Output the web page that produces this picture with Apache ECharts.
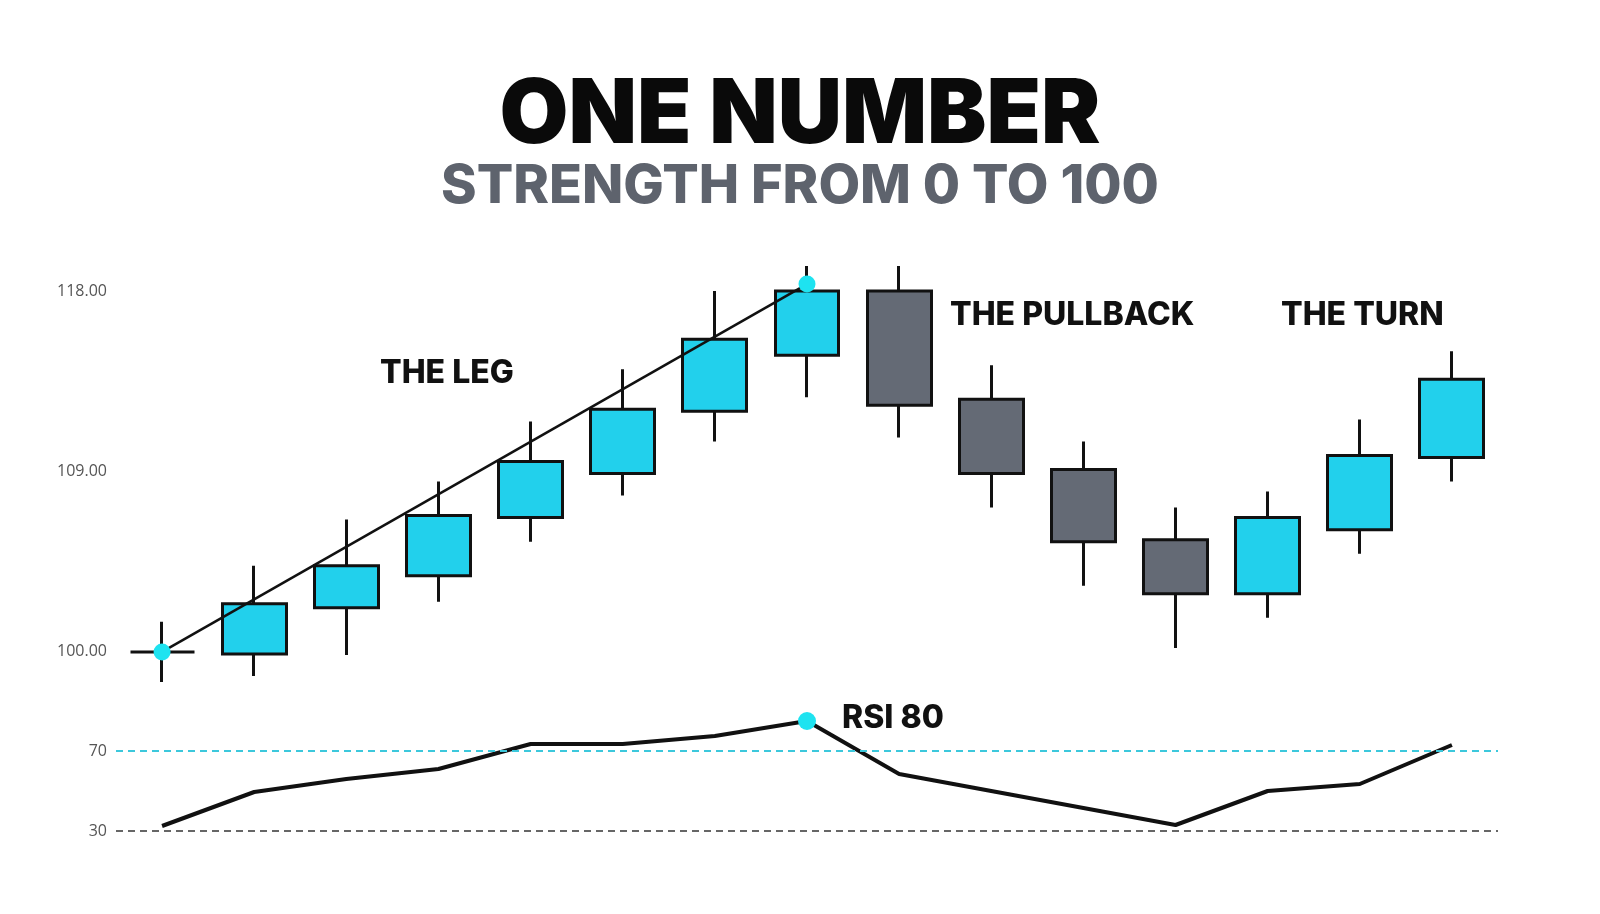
<!DOCTYPE html>
<html>
<head>
<meta charset="utf-8">
<script src="https://cdn.jsdelivr.net/npm/echarts@6/dist/echarts.min.js"></script>
<style>html,body{margin:0;padding:0;background:#fff}#main{width:1600px;height:914px}</style>
</head>
<body>
<div id="main"></div>
<script>
// candles: [open, close, low, high]
const categories = ['1','2','3','4','5','6','7','8','9','10','11','12','13','14','15'];
const candles = [
  [100.0, 100.0, 98.5, 101.5],
  [99.9, 102.4, 98.8, 104.3],
  [102.2, 104.3, 99.85, 106.6],
  [103.8, 106.8, 102.5, 108.5],
  [106.7, 109.5, 105.5, 111.5],
  [108.9, 112.1, 107.8, 114.1],
  [112.0, 115.6, 110.5, 118.0],
  [114.8, 118.0, 112.7, 119.25],
  [118.0, 112.3, 110.7, 119.25],
  [112.6, 108.9, 107.2, 114.3],
  [109.1, 105.5, 103.3, 110.5],
  [105.6, 102.9, 100.2, 107.2],
  [102.9, 106.7, 101.7, 108.0],
  [106.1, 109.8, 104.9, 111.6],
  [109.7, 113.6, 108.5, 115.0]
];
const rsi = [32.5, 49.5, 56, 61, 73.5, 73.5, 77.5, 85, 58.5, 50, 41.5, 33, 50, 53.5, 73];
const trend = [100, null, null, null, null, null, null, 118.35, null, null, null, null, null, null, null];
const priceTicks = [100, 109, 118];
const rsiTicks = [30, 70];

const CYAN = '#22d0ec', GREY = '#646a75';
const chart = echarts.init(document.getElementById('main'));
const lblFont = {color: '#555', fontSize: 16, fontFamily: 'Open Sans'};
chart.setOption({
  animation: false,
  graphic: [
    {type: 'text', left: 'center', top: 72, style: {text: 'ONE NUMBER', font: '900 89px Inter', fill: '#0a0a0a'}},
    {type: 'text', left: 'center', top: 160, style: {text: 'STRENGTH FROM 0 TO 100', font: '800 54px Inter', fill: '#5e636d'}},
    {type: 'text', left: 380, top: 357, style: {text: 'THE LEG', font: '800 32px Inter', fill: '#111'}},
    {type: 'text', left: 950, top: 299, style: {text: 'THE PULLBACK', font: '800 32px Inter', fill: '#111'}},
    {type: 'text', left: 1281, top: 299, style: {text: 'THE TURN', font: '800 32px Inter', fill: '#111'}},
    {type: 'text', left: 842, top: 702, style: {text: 'RSI 80', font: '800 32px Inter', fill: '#111'}}
  ],
  grid: [
    {left: 116, width: 1382, top: 251, height: 441},
    {left: 116, width: 1382, top: 711, height: 130}
  ],
  xAxis: [
    {type: 'category', data: categories, gridIndex: 0, show: false},
    {type: 'category', data: categories, gridIndex: 1, show: false}
  ],
  yAxis: [
    {type: 'value', gridIndex: 0, min: 98, max: 120, interval: 1, splitLine: {show: false},
     axisLine: {show: false}, axisTick: {show: false},
     axisLabel: Object.assign({margin: 9, formatter: v => priceTicks.includes(v) ? v.toFixed(2) : ''}, lblFont)},
    {type: 'value', gridIndex: 1, min: 25, max: 90, interval: 5, splitLine: {show: false},
     axisLine: {show: false}, axisTick: {show: false},
     axisLabel: Object.assign({margin: 9, formatter: v => rsiTicks.includes(v) ? String(v) : ''}, lblFont)}
  ],
  series: [
    {
      type: 'candlestick', xAxisIndex: 0, yAxisIndex: 0, data: candles, barWidth: '70%',
      itemStyle: {color: CYAN, color0: GREY, borderColor: '#111', borderColor0: '#111', borderWidth: 3}
    },
    {
      type: 'line', xAxisIndex: 0, yAxisIndex: 0, data: trend, connectNulls: true,
      lineStyle: {color: '#111', width: 2.5}, symbol: 'circle', symbolSize: 17,
      itemStyle: {color: '#1ee3f0'}, z: 5
    },
    {
      type: 'line', xAxisIndex: 1, yAxisIndex: 1, data: rsi,
      lineStyle: {color: '#111', width: 4}, symbol: 'none', z: 4,
      markPoint: {symbol: 'circle', symbolSize: 18, itemStyle: {color: '#1ee3f0'}, label: {show: false},
        data: [{coord: [7, 85]}]},
      markLine: {symbol: 'none', silent: true, label: {show: false},
        data: [
          {yAxis: 70, lineStyle: {color: '#3cc8dc', type: [7, 5], width: 2}},
          {yAxis: 30, lineStyle: {color: '#666', type: [7, 5], width: 2}}
        ]}
    }
  ]
});
</script>
</body>
</html>
